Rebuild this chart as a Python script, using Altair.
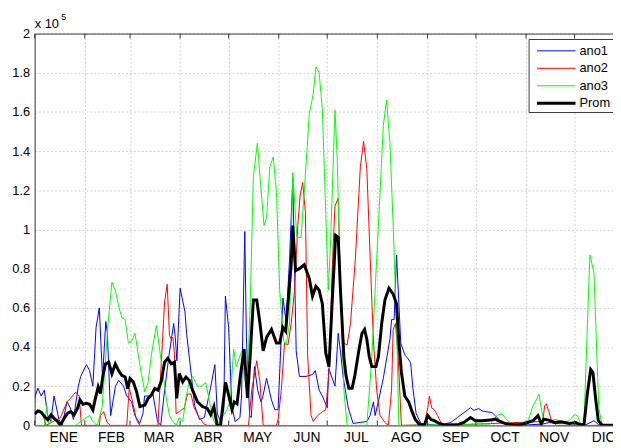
import altair as alt
import pandas as pd

# ---------------- data (values in units of 1e5) ----------------
SERIES = ["ano1", "ano2", "ano3", "Prom"]
COLORS = ["#0000ff", "#ff0000", "#00ff00", "#000000"]
WIDTHS = [1, 1, 1, 3]

DIAS_ANO1 = [0, 2, 4, 6, 8, 10, 12, 15, 17, 20, 22, 24, 27, 28.5, 32, 34, 36, 38, 40, 42, 44, 45, 47, 50, 52, 55, 57, 60, 62, 65,
             67, 68, 71, 73, 76, 78, 80, 83, 86, 87, 88, 90, 93, 94, 97, 99, 102, 105, 109, 111.5, 113, 115, 117, 118, 120, 122,
             124, 127, 128, 130, 131, 133, 134, 136, 138, 140, 141, 143.5, 146.5, 148.6, 150.6, 153.6, 155.6, 157.7, 159.7, 161.8,
             163.8, 167.9, 172, 173.6, 176, 178, 181, 182, 185.8, 187.8, 189.3, 191, 194, 197, 205.5, 207.5, 209.6, 210.6, 212.6,
             215.7, 219.8, 220.8, 222.4, 223.9, 226.5, 229, 231, 232.6, 234, 236, 239, 250, 257.4, 261.5, 265.6, 269.6, 271.7,
             274.7, 276.8, 279.8, 282.9, 284.9, 288, 292, 300, 314.4, 318.4, 322.5, 328.6, 334.8, 340.9, 346, 349, 365]
ANO1 = [0.14, 0.19, 0.15, 0.18, 0.05, 0.02, 0.15, 0.03, 0.0, 0.12, 0.09, 0.03, 0.2, 0.25, 0.31, 0.28, 0.2, 0.5, 0.6, 0.24, 0.53,
        0.47, 0.05, 0.2, 0.23, 0.2, 0.15, 0.12, 0.05, 0.01, 0.06, 0.15, 0.15, 0.17, 0.02, 0.0, 0.15, 0.35, 0.52, 0.45, 0.33, 0.7,
        0.58, 0.47, 0.25, 0.1, 0.03, 0.04, 0.2, 0.31, 0.06, 0.02, 0.08, 0.66, 0.5, 0.1, 0.02, 0.04, 0.15, 0.99, 0.45, 0.05, 0.04,
        0.3, 0.18, 0.12, 0.14, 0.24, 0.13, 0.08, 0.08, 0.65, 0.53, 0.85, 1.26, 0.38, 0.25, 0.25, 0.26, 0.28, 0.18, 0.15, 0.09,
        0.29, 0.2, 0.47, 0.37, 0.24, 0.09, 0.01, 0.02, 0.05, 0.12, 0.05, 0.12, 0.24, 0.44, 0.54, 0.54, 0.87, 0.42, 0.36, 0.34,
        0.32, 0.19, 0.06, 0.01, 0.0, 0.015, 0.04, 0.065, 0.09, 0.077, 0.086, 0.074, 0.069, 0.066, 0.05, 0.024, 0.007, 0.0,
        0.007, 0.015, 0.01, 0.015, 0.007, 0.003, 0.024, 0.003, 0.0]

DIAS_ANO2 = [0, 3, 5, 7, 16, 20, 22.4, 25.4, 27.5, 29, 40, 40.7, 42.7, 44.8, 46.8, 57, 58.5, 60, 63, 65, 76.3, 77.3, 80.4, 82,
             83.4, 84.5, 85.5, 86.5, 87.5, 89.6, 92.6, 94.6, 96.7, 98.7, 101.8, 104.8, 106.8, 132.3, 134.3, 137.4, 139.4, 140.4,
             141.4, 149.6, 150.6, 152.6, 154.6, 156.7, 158.7, 160.8, 162.8, 164.2, 165.8, 167.5, 168.9, 171, 172.4, 175, 178,
             180.1, 182.1, 184.2, 185.8, 187.8, 189.2, 191.3, 193.3, 195.4, 198.4, 201.5, 203.5, 205.5, 207.6, 209.6, 211.6,
             213.7, 216.7, 218.8, 220.8, 221.8, 223.2, 224.9, 226.9, 241.1, 243.2, 244.2, 245.6, 247.2, 249.3, 251.3, 253.3,
             314.4, 315.5, 316.5, 318.1, 319.5, 321.6, 323, 365]
ANO2 = [0.06, 0.08, 0.06, 0.0, 0.04, 0.12, 0.14, 0.17, 0.15, 0.0, 0.0, 0.05, 0.07, 0.015, 0.0, 0.0, 0.19, 0.14, 0.03, 0.0, 0.0,
        0.16, 0.63, 0.72, 0.46, 0.44, 0.45, 0.36, 0.06, 0.07, 0.09, 0.16, 0.16, 0.09, 0.04, 0.007, 0.0, 0.0, 0.18, 0.33, 0.22,
        0.1, 0.0, 0.0, 0.03, 0.18, 0.42, 0.41, 0.52, 0.69, 1.02, 1.17, 1.24, 1.09, 0.35, 0.05, 0.02, 0.05, 0.07, 0.08, 0.27,
        0.82, 1.12, 1.16, 0.69, 0.42, 0.41, 0.52, 0.85, 1.32, 1.45, 1.31, 0.85, 0.43, 0.18, 0.05, 0.015, 0.0, 0.18, 0.49, 0.52,
        0.35, 0.0, 0.003, 0.09, 0.15, 0.09, 0.08, 0.05, 0.015, 0.0, 0.02, 0.1, 0.11, 0.07, 0.03, 0.01, 0.0, 0.0]

DIAS_ANO3 = [0, 6.1, 7.5, 8.8, 25.4, 28.5, 31.9, 34, 36, 38.7, 41.7, 43.3, 45.4, 47.8, 49.9, 51.9, 53.9, 56, 58, 60, 62.1, 64.1,
             66.1, 68.2, 70.2, 72.2, 75.3, 77.3, 79.4, 81.4, 83.4, 85.5, 87.5, 89.5, 91.6, 93.6, 95.6, 97.7, 100.7, 103.2, 105.8,
             108.9, 110.9, 112.9, 119, 121.1, 123.1, 124.7, 126.8, 128.2, 129.6, 131.3, 133.3, 135.3, 137.8, 139.4, 141.9, 143.5,
             145.5, 147.6, 149.6, 151.6, 154.1, 155.6, 157.7, 159.7, 162.2, 164.8, 166.8, 169.9, 172.3, 174, 176, 178, 180,
             181.7, 183.1, 185.8, 187.2, 189.2, 191.3, 193.3, 205.5, 208.6, 211.6, 213.7, 215.7, 217.7, 219.8, 221.8, 223.9,
             225.3, 281.8, 285.9, 289, 292, 295, 298, 302.2, 304.2, 306.3, 308.3, 310.4, 312, 313.4, 314.9, 318.5, 322.6, 326.7,
             330.7, 333.8, 335.8, 337.9, 339.8, 343.5, 346, 349, 351, 365]
ANO3 = [0.0, 0.0, 0.1, 0.0, 0.0, 0.02, 0.04, 0.05, 0.02, 0.0, 0.09, 0.27, 0.52, 0.73, 0.69, 0.61, 0.55, 0.54, 0.42, 0.43, 0.47,
        0.36, 0.26, 0.17, 0.22, 0.36, 0.51, 0.39, 0.26, 0.14, 0.05, 0.02, 0.0, 0.04, 0.02, 0.14, 0.22, 0.25, 0.2, 0.2, 0.22,
        0.09, 0.02, 0.0, 0.08, 0.13, 0.39, 0.3, 0.35, 0.38, 0.25, 0.18, 0.6, 1.27, 1.44, 1.27, 1.02, 1.06, 1.32, 1.37, 1.19,
        0.69, 0.43, 0.41, 0.52, 1.29, 0.96, 0.96, 1.19, 1.59, 1.69, 1.83, 1.8, 1.61, 1.11, 0.69, 0.94, 1.61, 1.36, 0.69, 0.18,
        0.0, 0.0, 0.35, 0.85, 1.19, 1.53, 1.66, 1.44, 1.02, 0.52, 0.0, 0.007, 0.05, 0.06, 0.03, 0.007, 0.0, 0.015, 0.007, 0.05,
        0.1, 0.13, 0.16, 0.09, 0.024, 0.024, 0.03, 0.015, 0.024, 0.054, 0.05, 0.007, 0.0, 0.87, 0.78, 0.09, 0.0, 0.0]

DIAS_PROM = [0, 2, 4.1, 6.1, 8.1, 10.2, 12.2, 14.2, 15.9, 18.3, 20.4, 22.4, 24.4, 26.5, 28.1, 29.9, 31.9, 34, 36, 37.6, 39.3,
             40.7, 42.1, 43.8, 45.8, 47.8, 49.9, 51.9, 53.9, 56, 57.6, 59, 61, 63.1, 65.1, 68.2, 70.2, 72.2, 74.3, 76.3, 78.3,
             80.4, 82.4, 84.5, 86.5, 87.9, 89.5, 91.6, 93.6, 95.6, 97.7, 100.7, 103.8, 106.8, 108.9, 110.9, 112.9, 115, 118.1,
             120.7, 122.1, 123.5, 125.2, 127.2, 129.6, 131.7, 133.3, 135.3, 137.4, 139.4, 141.4, 143.5, 146.5, 149.6, 151.6,
             153.6, 155.3, 156.7, 158.7, 159.7, 161.4, 163.8, 166.8, 169.9, 171.9, 174, 176, 178, 180.1, 182.1, 184.2, 186.2,
             187.8, 189.2, 191.3, 192.7, 194.4, 196.4, 198, 200.5, 202.5, 204.1, 205.5, 207, 208.6, 211.1, 212.7, 214.7, 216.7,
             219.2, 221.8, 223.9, 225.3, 226.9, 229, 231.4, 233.5, 235.5, 238.2, 241.1, 243.2, 245.2, 247.2, 250.3, 253.3,
             261.5, 265.6, 269.6, 272.7, 276.8, 281.8, 284.9, 288, 292, 298.2, 302.2, 308.3, 311.4, 313.4, 314.9, 318.1, 321.6,
             325.6, 330.7, 334.8, 337.9, 339.9, 341.9, 344, 345.4, 347, 348.7, 351.1, 365]
PROM = [0.057, 0.074, 0.067, 0.045, 0.029, 0.054, 0.034, 0.02, 0.0, 0.037, 0.062, 0.07, 0.054, 0.087, 0.13, 0.108, 0.113,
        0.108, 0.079, 0.138, 0.197, 0.163, 0.247, 0.314, 0.323, 0.264, 0.314, 0.28, 0.255, 0.247, 0.188, 0.239, 0.222, 0.171,
        0.096, 0.104, 0.138, 0.155, 0.188, 0.18, 0.225, 0.323, 0.343, 0.314, 0.323, 0.138, 0.264, 0.222, 0.247, 0.23, 0.18,
        0.121, 0.096, 0.087, 0.054, 0.096, 0.0, 0.0, 0.22, 0.13, 0.08, 0.12, 0.11, 0.25, 0.39, 0.14, 0.35, 0.64, 0.64, 0.52,
        0.38, 0.45, 0.49, 0.42, 0.42, 0.5, 0.48, 0.62, 0.82, 1.02, 0.79, 0.8, 0.82, 0.75, 0.66, 0.71, 0.69, 0.62, 0.37, 0.3,
        0.65, 0.97, 0.96, 0.69, 0.35, 0.25, 0.19, 0.19, 0.25, 0.38, 0.47, 0.49, 0.44, 0.35, 0.3, 0.3, 0.35, 0.52, 0.64, 0.7,
        0.67, 0.62, 0.43, 0.27, 0.15, 0.12, 0.07, 0.03, 0.003, 0.002, 0.05, 0.03, 0.024, 0.01, 0.002, 0.003, 0.015, 0.04,
        0.024, 0.024, 0.027, 0.032, 0.02, 0.007, 0.003, 0.007, 0.024, 0.05, 0.007, 0.032, 0.027, 0.015, 0.018, 0.01, 0.015,
        0.002, 0.007, 0.16, 0.285, 0.27, 0.14, 0.024, 0.002, 0.0]

MONTH_STARTS = [0, 31, 59, 90, 120, 151, 181, 212, 243, 273, 304, 334]
MONTH_LABELS = ["ENE", "FEB", "MAR", "ABR", "MAY", "JUN", "JUL", "AGO", "SEP", "OCT", "NOV", "DIC"]
MONTH_CENTERS = [18, 47.5, 77, 107.5, 138, 168.5, 199, 230, 260.5, 291, 321.5, 352]
Y_TICKS = [0, 0.2, 0.4, 0.6, 0.8, 1, 1.2, 1.4, 1.6, 1.8, 2]

# ---------------- tables ----------------
rows = []
for name, dias, vals in [("ano1", DIAS_ANO1, ANO1), ("ano2", DIAS_ANO2, ANO2),
                         ("ano3", DIAS_ANO3, ANO3), ("Prom", DIAS_PROM, PROM)]:
    for d, v in zip(dias, vals):
        rows.append({"serie": name, "dia": d, "valor": v})
df = pd.DataFrame(rows)
months = pd.DataFrame({"inicio": MONTH_STARTS, "mes": MONTH_LABELS, "centro": MONTH_CENTERS})
legend_df = pd.DataFrame({"serie": SERIES, "fila": list(range(len(SERIES))), "ancho": WIDTHS})
one = pd.DataFrame({"k": [0]})

W, H = 586, 397
FONT = "Liberation Sans"
AX = "#3a3a3a"
GRID = "#cfcfcf"

xscale = alt.Scale(domain=[0, 357.8], nice=False, zero=False)
yscale = alt.Scale(domain=[0, 2], nice=False, zero=True)
cscale = alt.Scale(domain=SERIES, range=COLORS)

x_bottom = alt.Axis(values=MONTH_STARTS, labels=False, ticks=False, grid=True, gridDash=[2, 2],
                    gridColor=GRID, domainColor=AX, title=None)
y_axis = alt.Axis(values=Y_TICKS, format="~g", ticks=False, grid=True, gridDash=[2, 2], gridColor=GRID,
                  domainColor=AX, labelFont=FONT, labelFontSize=13, labelColor="#000", labelPadding=5, title=None)

lines_ano = alt.Chart(df).transform_filter(alt.datum.serie != "Prom").mark_line(clip=True, strokeWidth=1).encode(
    x=alt.X("dia:Q", scale=xscale, axis=x_bottom),
    y=alt.Y("valor:Q", scale=yscale, axis=y_axis),
    color=alt.Color("serie:N", scale=cscale, legend=None),
    detail="serie:N",
)
line_prom = alt.Chart(df).transform_filter(alt.datum.serie == "Prom").mark_line(clip=True, strokeWidth=3).encode(
    x=alt.X("dia:Q", scale=xscale, axis=None),
    y=alt.Y("valor:Q", scale=yscale, axis=y_axis),
    color=alt.Color("serie:N", scale=cscale, legend=None),
)

ticks_top = alt.Chart(months).mark_rule(color=AX, strokeWidth=1).encode(
    x=alt.X("inicio:Q", scale=xscale,
            axis=alt.Axis(orient="top", labels=False, ticks=False, grid=False, domainColor=AX, title=None)),
    y=alt.value(0), y2=alt.value(5),
)
ticks_bottom = alt.Chart(months).mark_rule(color=AX, strokeWidth=1).encode(
    x=alt.X("inicio:Q", scale=xscale, axis=None),
    y=alt.value(H - 5), y2=alt.value(H),
)
month_text = alt.Chart(months).mark_text(font=FONT, fontSize=14, baseline="alphabetic", align="center",
                                         color="#000").encode(
    x=alt.X("centro:Q", scale=xscale, axis=None),
    y=alt.value(H + 17),
    text="mes:N",
)

exp_main = alt.Chart(one).mark_text(font=FONT, fontSize=13, align="left", baseline="alphabetic", color="#000",
                                    text="x 10").encode(x=alt.value(0), y=alt.value(-6))
exp_sup = alt.Chart(one).mark_text(font=FONT, fontSize=9, align="left", baseline="alphabetic", color="#000",
                                   text="5").encode(x=alt.value(27), y=alt.value(-14))

legend_box = alt.Chart(one).mark_rect(fill="white", stroke=AX, strokeWidth=1).encode(
    x=alt.value(501), x2=alt.value(640), y=alt.value(6), y2=alt.value(80)
)
legend_lines = alt.Chart(legend_df).transform_calculate(py="17.5 + 17.7 * datum.fila").mark_rule().encode(
    x=alt.value(509), x2=alt.value(548),
    y=alt.Y("py:Q", scale=None, axis=None),
    color=alt.Color("serie:N", scale=cscale, legend=None),
    strokeWidth=alt.StrokeWidth("ancho:Q", scale=None, legend=None),
)
legend_text = alt.Chart(legend_df).transform_calculate(py="17.5 + 17.7 * datum.fila").mark_text(
    font=FONT, fontSize=13, align="left", baseline="middle", color="#000").encode(
    x=alt.value(552),
    y=alt.Y("py:Q", scale=None, axis=None),
    text="serie:N",
)

chart = alt.layer(
    lines_ano, line_prom, ticks_top, ticks_bottom, month_text, exp_main, exp_sup,
    legend_box, legend_lines, legend_text
).resolve_axis(x="independent").resolve_scale(x="shared").properties(
    width=W, height=H,
    autosize=alt.AutoSizeParams(type="none"),
    padding={"left": 27, "top": 23, "right": 0, "bottom": 20},
    background="white",
).configure_view(stroke=None)

chart.save("out.html", embed_options={"renderer": "svg", "actions": False})
